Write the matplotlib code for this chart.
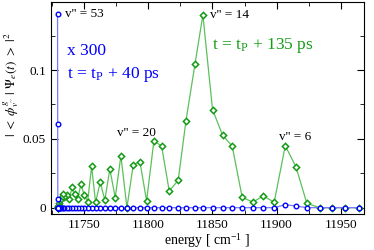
import matplotlib
matplotlib.use("Agg")
from matplotlib import pyplot as plt
from matplotlib.ticker import MultipleLocator

plt.rcParams['font.family'] = ['Liberation Serif', 'DejaVu Serif']
plt.rcParams['mathtext.fontset'] = 'stix'

# vibrational levels v'' = 0 ... 53, energies in cm^-1
energy = [11964.0, 11953.3, 11943.0, 11933.4, 11923.5, 11915.0, 11906.7, 11898.1,
          11889.5, 11881.5, 11873.2, 11865.4, 11857.9, 11850.1, 11842.6, 11836.4,
          11829.4, 11823.4, 11816.4, 11810.5, 11804.5, 11798.8, 11793.6, 11788.4,
          11783.5, 11778.8, 11774.4, 11770.2, 11766.3, 11762.7, 11759.1, 11756.0,
          11752.9, 11750.2, 11747.7, 11745.1, 11742.8, 11740.9, 11738.6, 11736.5,
          11734.7, 11733.4, 11732.3, 11731.3, 11730.7, 11730.4, 11730.2, 11730.1,
          11730.0, 11729.9, 11729.8, 11729.7, 11729.6, 11729.5]

# t = tP + 135 ps
pop_135 = [0.0, 0.0, 0.0, 0.0, 0.0032, 0.0297, 0.045, 0.004,
           0.0085, 0.004, 0.0075, 0.0447, 0.0527, 0.0713, 0.140, 0.104,
           0.0629, 0.0199, 0.0121, 0.0447, 0.0486, 0.0049, 0.0334, 0.0312,
           0.0, 0.0377, 0.0073, 0.028, 0.0056, 0.0184, 0.0039, 0.030,
           0.0044, 0.0092, 0.017, 0.006, 0.010, 0.015, 0.0065, 0.0092,
           0.0075, 0.0097, 0.0068, 0.0054, 0.0032, 0.002, 0.001, 0.0008,
           0.0005, 0.0, 0.0, 0.0, 0.0, 0.0]

# t = tP + 40 ps (x 300)
pop_40 = [0.0, 0.0, 0.0, 0.0, 0.0, 0.0012, 0.0022, 0.0,
          0.0, 0.0, 0.0, 0.0, 0.0, 0.0, 0.0, 0.0,
          0.0, 0.0, 0.0, 0.0, 0.0, 0.0, 0.0, 0.0,
          0.0, 0.0, 0.0, 0.0, 0.0, 0.0, 0.0, 0.0,
          0.0, 0.0, 0.0, 0.0, 0.0, 0.0, 0.0, 0.0,
          0.0, 0.0, 0.0, 0.0, 0.0, 0.0, 0.0, 0.0,
          0.0, 0.0, 0.0, 0.0065, 0.061, 0.1406]

fig = plt.figure(figsize=(3.74, 2.5), dpi=100)
ax = fig.add_axes([0.136, 0.144, 0.837, 0.848])

ax.plot(energy, pop_135, color='#5cc05c', lw=0.9, marker='D', ms=3.2,
        mec='#139a13', mfc='white', mew=1.1)
ax.plot(energy, pop_40, color='#7878ff', lw=0.9, marker='o', ms=3.3,
        mec='#0000ff', mfc='white', mew=1.0)

ax.set_xlim(11724.3, 11967.9)
ax.set_ylim(-0.0046, 0.1494)
ax.xaxis.set_major_locator(MultipleLocator(50))
ax.xaxis.set_minor_locator(MultipleLocator(25))
ax.yaxis.set_major_locator(MultipleLocator(0.05))
ax.yaxis.set_minor_locator(MultipleLocator(0.025))
ax.set_yticks([0, 0.05, 0.1])
ax.set_yticklabels(['0', '0.05', '0.1'])
ax.tick_params(which='both', direction='in', top=True, right=True, labelsize=9.5)
ax.tick_params(which='major', length=5)
ax.tick_params(which='minor', length=3)

ax.set_xlabel(r'energy [ cm$^{\mathregular{-1}}$ ]', fontsize=10, labelpad=0)
fig.text(0.03, 0.66, r'$|\ <\ \phi^{g}_{v^{\prime\prime}}\ |\ \Psi_e(t)\ >\ |^2$',
         fontsize=9.5, rotation=90, ha='center', va='center')

ax.text(11735, 0.141, "v'' = 53", fontsize=9.5, va='center')
ax.text(11848, 0.140, "v'' = 14", fontsize=9.5, va='center')
ax.text(11776, 0.054, "v'' = 20", fontsize=9.5, va='center')
ax.text(11902, 0.051, "v'' = 6", fontsize=9.5, va='center')

ax.text(11737, 0.114, 'x 300', color='#0000ff', fontsize=12.5, va='center')
ax.text(11737, 0.097, r't = t$_{\mathregular{P}}$ + 40 ps', color='#0000ff',
        fontsize=12.5, va='center')
ax.text(11850, 0.118, r't = t$_{\mathregular{P}}$ + 135 ps', color='#159e15',
        fontsize=12.5, va='center')

fig.savefig('out.png', dpi=100)
